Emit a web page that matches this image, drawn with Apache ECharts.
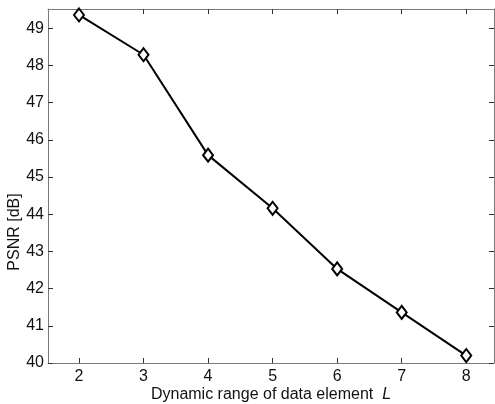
<!DOCTYPE html>
<html>
<head>
<meta charset="utf-8">
<script src="https://cdn.jsdelivr.net/npm/echarts@6/dist/echarts.min.js"></script>
<style>
  html, body { margin: 0; padding: 0; background: #fff; }
  #chart { width: 495px; height: 404px; }
</style>
</head>
<body>
<div id="chart"></div>
<script>
// dynamic range L and PSNR values
var rangeL = [2, 3, 4, 5, 6, 7, 8];
var psnr = [49.36, 48.29, 45.59, 44.16, 42.53, 41.36, 40.2];
var xTicks = [2, 3, 4, 5, 6, 7, 8];
var yTicks = [40, 41, 42, 43, 44, 45, 46, 47, 48, 49];

var points = [];
for (var i = 0; i < rangeL.length; i++) {
	points.push([rangeL[i], psnr[i]]);
}

var font = 'Liberation Sans, Arial, sans-serif';
var boxLine = { show: true, lineStyle: { color: '#7a7a7a', width: 1 } };

var myChart = echarts.init(document.getElementById('chart'), null, { renderer: 'canvas' });
var option = {
	animation: false,
	backgroundColor: '#fff',
	grid: { left: 48, top: 9, right: 1, bottom: 41, outerBoundsMode: 'none', containLabel: false },
	// ylabel sits lower than the axis middle in the original
	graphic: [
		{
			type: 'text',
			x: 15, y: 232,
			rotation: Math.PI / 2,
			style: {
				text: 'PSNR [dB]',
				font: '16px Liberation Sans, Arial, sans-serif',
				fill: '#111',
				align: 'center',
				verticalAlign: 'middle'
			}
		}
	],
	xAxis: [
		{
			type: 'value', min: 1.52, max: 8.43, position: 'bottom',
			axisLine: boxLine,
			axisTick: { inside: true, length: 5, customValues: xTicks, lineStyle: { color: '#333' } },
			axisLabel: { customValues: xTicks, margin: 6, fontSize: 16, color: '#111', fontFamily: font },
			splitLine: { show: false },
			name: 'Dynamic range of data element  {i|L}',
			nameLocation: 'middle', nameGap: 24,
			nameMoveOverlap: false,
			nameTextStyle: {
				fontSize: 16, color: '#111', fontFamily: font,
				rich: { i: { fontStyle: 'italic', fontSize: 16, color: '#111', fontFamily: font } }
			}
		},
		{
			type: 'value', min: 1.52, max: 8.43, position: 'top',
			axisLine: boxLine,
			axisTick: { inside: true, length: 5, customValues: xTicks, lineStyle: { color: '#333' } },
			axisLabel: { show: false },
			splitLine: { show: false }
		}
	],
	yAxis: [
		{
			type: 'value', min: 40, max: 49.52, position: 'left',
			axisLine: boxLine,
			axisTick: { inside: true, length: 5, customValues: yTicks, lineStyle: { color: '#333' } },
			axisLabel: { customValues: yTicks, margin: 4, fontSize: 16, color: '#111', fontFamily: font },
			splitLine: { show: false }
		},
		{
			type: 'value', min: 40, max: 49.52, position: 'right',
			axisLine: boxLine,
			axisTick: { inside: true, length: 5, customValues: yTicks, lineStyle: { color: '#333' } },
			axisLabel: { show: false },
			splitLine: { show: false }
		}
	],
	series: [
		{
			type: 'line',
			data: points,
			xAxisIndex: 0,
			yAxisIndex: 0,
			symbol: 'diamond',
			symbolSize: [10, 13],
			showAllSymbol: true,
			lineStyle: { color: '#000', width: 2 },
			itemStyle: { color: '#fff', borderColor: '#000', borderWidth: 2 }
		}
	]
};
myChart.setOption(option);
</script>
</body>
</html>
